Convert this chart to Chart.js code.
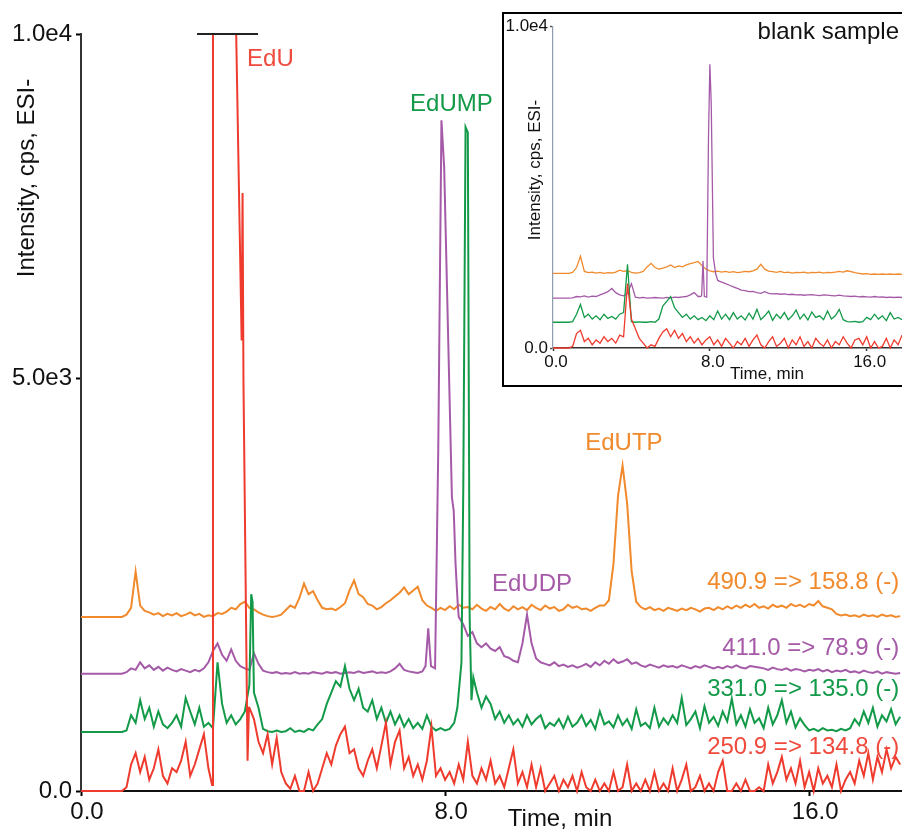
<!DOCTYPE html>
<html>
<head>
<meta charset="utf-8">
<script src="https://cdn.jsdelivr.net/npm/chart.js@4.4.1/dist/chart.umd.min.js"></script>
<style>
  html, body { margin: 0; padding: 0; background: #fff; overflow: hidden; width: 902px; height: 830px; }
  #main { position: absolute; left: 0; top: 0; }
  #insetBox { position: absolute; left: 502px; top: 12px; width: 398px; height: 371px;
              border: 2px solid #000; border-right: none; background: #fff; }
  #inset { display: block; }
</style>
</head>
<body>
<canvas id="main" width="902" height="830" style="width:902px;height:830px"></canvas>
<div id="insetBox"><canvas id="inset" width="398" height="371" style="width:398px;height:371px"></canvas></div>
<script>
// ---- main chromatogram, sampled every 0.1 min (0 .. 18 min), intensity in cps ----
const mainStep = 0.1;
const mainOrange = [
  2300,2300,2300,2300,2300,2300,2300,2300,2300,2300,
  2330,2420,2900,2450,2380,2360,2330,2350,2310,2340,
  2320,2350,2310,2330,2360,2320,2340,2300,2320,2310,
  2350,2340,2370,2420,2400,2470,2500,2420,2400,2360,
  2330,2310,2300,2310,2330,2390,2450,2420,2550,2740,
  2600,2640,2520,2420,2400,2410,2390,2430,2480,2650,
  2780,2600,2560,2470,2450,2400,2430,2480,2520,2570,
  2620,2690,2600,2650,2700,2520,2450,2420,2380,2420,
  2390,2440,2400,2460,2420,2430,2400,2460,2410,2380,
  2430,2400,2470,2410,2380,2440,2400,2430,2390,2460,
  2420,2390,2450,2410,2430,2380,2400,2460,2420,2440,
  2400,2410,2380,2420,2450,2450,2520,3000,3900,4300,
  3800,2900,2500,2430,2400,2430,2390,2410,2380,2420,
  2400,2380,2410,2390,2420,2400,2370,2410,2420,2390,
  2430,2400,2440,2410,2450,2420,2460,2430,2470,2420,
  2440,2410,2460,2430,2450,2420,2470,2440,2460,2430,
  2470,2450,2510,2440,2420,2400,2340,2320,2330,2310,
  2320,2300,2330,2310,2320,2300,2330,2310,2320,2300,
  2310
];
const mainPurple = [
  1550,1550,1550,1550,1550,1550,1550,1550,1550,1550,
  1570,1620,1600,1700,1620,1660,1600,1640,1590,1630,
  1600,1580,1610,1590,1570,1600,1580,1620,1700,1850,
  1950,1800,1720,1870,1720,1650,1620,1600,1820,1680,
  1590,1570,1560,1570,1550,1560,1550,1570,1550,1560,
  1550,1570,1560,1550,1570,1560,1570,1550,1560,1570,
  1560,1580,1560,1570,1580,1560,1570,1560,1580,1620,
  1680,1600,1580,1570,1560,1580,1600,1620,1600,1700,
  8000,4000,2800,2300,2200,2050,2100,1950,1900,1950,
  1880,1850,1900,1780,1760,1720,1700,1950,2330,1950,
  1750,1700,1680,1660,1700,1650,1670,1640,1660,1630,
  1650,1680,1640,1700,1660,1720,1680,1740,1690,1710,
  1740,1680,1700,1660,1640,1670,1650,1630,1660,1640,
  1650,1630,1660,1640,1620,1650,1630,1660,1640,1620,
  1640,1620,1650,1630,1660,1630,1620,1650,1640,1630,
  1620,1600,1630,1610,1600,1620,1590,1610,1600,1580,
  1600,1590,1610,1580,1600,1570,1590,1580,1600,1570,
  1580,1560,1590,1570,1560,1580,1550,1570,1560,1550,
  1560
];
const mainGreen = [
  780,780,780,780,780,780,780,780,780,780,
  800,1000,900,1200,950,1100,850,1050,880,830,
  900,1000,850,1230,1050,880,1100,850,900,830,
  1700,1150,900,1000,880,950,1050,1400,1300,1100,
  820,790,780,800,780,790,830,780,800,780,
  820,800,880,950,1150,1300,1450,1380,1650,1350,
  1200,1350,1100,1050,1200,950,1100,900,1050,880,
  1000,850,950,830,900,820,1000,850,800,830,
  800,820,900,1100,1900,8770,1500,1300,1100,1250,
  1150,950,1050,900,1000,880,950,850,1000,880,
  950,1000,830,900,860,950,830,980,850,900,
  1000,860,940,820,1050,880,920,840,1000,870,
  950,820,1080,860,900,830,1100,850,960,880,
  1000,900,1230,870,950,1050,830,1120,900,980,
  860,1050,920,1220,880,1000,850,1080,900,960,
  830,1100,880,1000,1200,900,1050,840,960,870,
  800,820,790,830,800,810,790,820,800,830,
  950,870,1050,900,1100,850,1000,920,1080,880,
  980
];
const mainRed = [
  0,0,0,0,0,0,0,0,0,0,
  50,350,500,250,450,150,300,550,200,100,
  300,250,400,650,200,350,550,750,300,80,
  0,0,0,0,0,0,0,1100,950,650,
  500,750,350,700,250,100,30,200,0,0,
  250,0,100,300,500,350,600,750,850,500,
  550,300,200,400,550,300,600,900,350,650,
  800,300,450,200,350,150,400,850,200,300,
  150,250,100,350,150,650,200,100,300,150,
  400,100,200,50,300,550,100,250,50,350,
  50,300,0,100,200,0,150,50,200,0,
  250,50,0,150,0,100,0,250,0,50,
  350,0,100,0,150,0,250,0,100,0,
  300,0,150,350,0,50,200,0,100,0,
  250,400,0,0,100,0,150,0,0,50,
  0,350,100,250,450,150,300,100,400,50,
  250,0,300,100,200,50,350,0,150,250,
  100,400,200,500,150,450,250,550,300,450,
  350
];

// finer samples across the sharp peaks (replace the coarse grid there)
const eduPeakT = [2.88, 2.9, 3.41, 3.53, 3.55, 3.57, 3.66, 3.69];
const eduPeakV = [80, 10000, 10000, 5950, 7900, 5400, 400, 1100];
const edumpSpikeT = [3.7, 3.74, 3.77, 3.8];
const edumpSpikeV = [1400, 2600, 2500, 1300];
const edumpPeakT = [8.2, 8.27, 8.36, 8.4, 8.45, 8.5, 8.54, 8.58, 8.62];
const edumpPeakV = [900, 1100, 1700, 4000, 8770, 8700, 2300, 1200, 1500];
const edudpPeakT = [7.5, 7.57, 7.63, 7.69, 7.78, 7.85, 7.92, 7.98, 8.15, 8.19, 8.23, 8.28];
const edudpPeakV = [1580, 1650, 2150, 1650, 1620, 4500, 8860, 8240, 3880, 3700, 3000, 2450];
const clipMarkT = [2.55, 3.89];
const clipMarkV = [10000, 10000];

// ---- inset (blank sample), sampled every 0.2 min (0 .. 17.8 min) ----
const insetStep = 0.2;
const insetOrange = [
  2320,2320,2320,2320,2320,2350,2500,2850,2380,2340,
  2360,2330,2350,2320,2340,2330,2360,2420,2380,2400,
  2350,2330,2340,2380,2520,2630,2500,2450,2480,2520,
  2580,2500,2550,2520,2580,2620,2650,2690,2560,2450,
  2400,2370,2390,2360,2380,2350,2370,2340,2360,2380,
  2370,2400,2450,2600,2450,2390,2370,2350,2380,2340,
  2360,2330,2350,2340,2360,2330,2350,2340,2360,2330,
  2350,2340,2360,2380,2360,2400,2370,2340,2320,2300,
  2310,2290,2300,2290,2300,2290,2300,2290,2300,2290
];
const insetPurple = [
  1550,1550,1550,1550,1550,1560,1600,1590,1620,1580,
  1610,1600,1650,1700,1750,1850,1720,1650,1620,1700,
  2000,1580,1560,1570,1550,1560,1570,1560,1550,1570,
  1560,1580,1570,1590,1600,1650,1720,1600,1600,1600,
  8800,3000,2100,2050,2000,1950,1900,1850,1800,1780,
  1750,1760,1720,1700,1750,1700,1680,1690,1670,1680,
  1660,1670,1650,1660,1640,1650,1660,1640,1630,1650,
  1640,1630,1620,1640,1620,1610,1600,1610,1590,1600,
  1590,1580,1600,1580,1590,1570,1580,1570,1580,1570
];
const insetGreen = [
  800,800,800,800,800,820,1050,1350,950,1050,
  900,1000,880,1050,920,980,900,1050,1100,2600,
  820,800,810,800,800,820,800,900,1300,1450,
  1600,1250,1100,950,1050,900,1000,880,950,850,
  1000,880,1150,900,1050,880,1100,900,1000,870,
  1080,900,1200,880,1000,1150,860,1050,920,1100,
  880,1000,1180,900,1050,870,1120,950,1000,880,
  1150,900,1000,1200,880,820,810,830,800,820,
  950,880,1050,900,1000,850,1100,900,950,880
];
const insetRed = [
  0,0,0,0,0,50,450,550,200,300,
  100,250,150,350,200,300,150,400,350,2000,
  900,600,300,150,0,100,50,300,500,600,
  350,550,300,450,200,350,150,300,100,250,
  350,100,250,50,300,150,0,200,100,300,
  50,250,400,100,0,200,350,50,150,300,
  0,250,100,350,50,200,0,300,150,50,
  250,0,200,100,350,150,0,250,300,100,
  350,0,200,0,50,300,0,250,100,400
];
const insetPeakT = [7.5, 7.58, 7.65, 7.72, 7.84, 7.93, 8.0, 8.07, 8.18, 8.3, 8.4];
const insetPeakV = [1600, 1620, 2700, 1600, 1580, 6500, 8820, 7600, 2800, 2300, 2100];

// ---- axes ----
const xTickValues = [0, 8, 16];
const xTickLabels = ["0.0", "8.0", "16.0"];
const yTickValues = [0, 5450, 10000];   // the 5.0e3 mark sits there in the original figure
const yTickLabels = ["0.0", "5.0e3", "1.0e4"];
const insetYTickValues = [0, 10000];
const insetYTickLabels = ["0.0", "1.0e4"];

const FONT = '"Liberation Sans", Arial, sans-serif';
const C_ORANGE = "#f08a2c", C_PURPLE = "#a55aa8", C_GREEN = "#139a49", C_RED = "#ee3b2e";

Chart.defaults.font.family = FONT;
Chart.defaults.color = "#111";

function pairs(ts, vs) {
  return ts.map((t, i) => ({x: t, y: vs[i]}));
}

// coarse grid, with finer peak samples replacing the grid over their span
function trace(step, vals, ...peaks) {
  let pts = vals.map((v, i) => ({x: Math.round(i * step * 100) / 100, y: v}));
  peaks.forEach(([pt, pv]) => {
    const a = pt[0], b = pt[pt.length - 1];
    pts = pts.filter(p => p.x < a || p.x > b).concat(pairs(pt, pv));
  });
  return pts.sort((p, q) => p.x - q.x);
}

function line(data, color, width) {
  return {data, borderColor: color, borderWidth: width, pointRadius: 0, tension: 0, fill: false, clip: 6};
}

// text drawn in data coordinates (t, v) or canvas pixels (px, py)
function textLayer(items) {
  return {
    id: "textLayer",
    afterDatasetsDraw(chart) {
      const {ctx, scales} = chart;
      items.forEach(it => {
        const px = it.t !== undefined ? scales.x.getPixelForValue(it.t) : it.px;
        const py = it.v !== undefined ? scales.y.getPixelForValue(it.v) : it.py;
        ctx.save();
        ctx.font = it.font;
        ctx.fillStyle = it.color || "#111";
        ctx.textAlign = it.align || "left";
        ctx.textBaseline = "middle";
        ctx.translate(px, py);
        if (it.rotate) ctx.rotate(it.rotate);
        ctx.fillText(it.text, 0, 0);
        ctx.restore();
      });
    }
  };
}

const big = "24px " + FONT;
const small = "17px " + FONT;

new Chart(document.getElementById("main"), {
  type: "line",
  data: {
    datasets: [
      line(pairs(clipMarkT, clipMarkV), "#222", 2),
      line(trace(mainStep, mainRed, [eduPeakT, eduPeakV]), C_RED, 2),
      line(trace(mainStep, mainGreen, [edumpSpikeT, edumpSpikeV], [edumpPeakT, edumpPeakV]), C_GREEN, 2),
      line(trace(mainStep, mainPurple, [edudpPeakT, edudpPeakV]), C_PURPLE, 2),
      line(trace(mainStep, mainOrange), C_ORANGE, 2),
    ]
  },
  options: {
    responsive: false,
    animation: false,
    devicePixelRatio: 1,
    layout: {padding: {top: 34, right: 0, left: 0, bottom: 0}},
    plugins: {legend: {display: false}, tooltip: {enabled: false}},
    scales: {
      x: {
        type: "linear", min: 0, max: 18.04,
        afterBuildTicks: s => { s.ticks = xTickValues.map(v => ({value: v})); },
        afterFit: s => { s.height = 39; },
        ticks: {callback: (v, i) => xTickLabels[i], font: {size: 24}, padding: 2, labelOffset: 6, maxRotation: 0},
        grid: {drawOnChartArea: false, color: "#000", tickLength: 5, tickWidth: 2},
        border: {color: "#111", width: 2},
      },
      y: {
        type: "linear", min: 0, max: 10000,
        afterBuildTicks: s => { s.ticks = yTickValues.map(v => ({value: v})); },
        afterFit: s => { s.width = 81; },
        ticks: {callback: (v, i) => yTickLabels[i], font: {size: 24}, padding: 4},
        grid: {drawOnChartArea: false, color: "#000", tickLength: 5, tickWidth: 2},
        border: {color: "#333", width: 2},
      }
    }
  },
  plugins: [textLayer([
    {text: "Intensity, cps, ESI-", px: 27, py: 178, rotate: -Math.PI / 2, align: "center", font: big},
    {text: "Time, min", px: 560, py: 819, align: "center", font: big},
    {text: "EdU", t: 3.65, v: 9670, font: big, color: "#ef4a3c"},
    {text: "EdUMP", t: 7.23, v: 9070, font: big, color: C_GREEN},
    {text: "EdUDP", t: 9.03, v: 2725, font: big, color: C_PURPLE},
    {text: "EdUTP", t: 11.08, v: 4590, font: big, color: C_ORANGE},
    {text: "490.9 => 158.8 (-)", t: 17.98, v: 2750, align: "right", font: big, color: C_ORANGE},
    {text: "411.0 => 78.9 (-)", t: 17.98, v: 1890, align: "right", font: big, color: C_PURPLE},
    {text: "331.0 => 135.0 (-)", t: 17.98, v: 1340, align: "right", font: big, color: C_GREEN},
    {text: "250.9 => 134.8 (-)", t: 17.98, v: 580, align: "right", font: big, color: "#ef4a3c"},
  ])]
});

new Chart(document.getElementById("inset"), {
  type: "line",
  data: {
    datasets: [
      line(trace(insetStep, insetRed), C_RED, 1.3),
      line(trace(insetStep, insetGreen), C_GREEN, 1.3),
      line(trace(insetStep, insetPurple, [insetPeakT, insetPeakV]), C_PURPLE, 1.3),
      line(trace(insetStep, insetOrange), C_ORANGE, 1.3),
    ]
  },
  options: {
    responsive: false,
    animation: false,
    devicePixelRatio: 1,
    layout: {padding: {top: 11, right: 0, left: 0, bottom: 0}},
    plugins: {legend: {display: false}, tooltip: {enabled: false}},
    scales: {
      x: {
        type: "linear", min: 0, max: 17.8,
        afterBuildTicks: s => { s.ticks = xTickValues.map(v => ({value: v})); },
        afterFit: s => { s.height = 37; },
        ticks: {callback: (v, i) => xTickLabels[i], font: {size: 17}, padding: 1, labelOffset: 3, maxRotation: 0},
        grid: {drawOnChartArea: false, color: "#333", tickLength: 3, tickWidth: 1.5},
        border: {color: "#333", width: 1.5},
      },
      y: {
        type: "linear", min: 0, max: 10000,
        afterBuildTicks: s => { s.ticks = insetYTickValues.map(v => ({value: v})); },
        afterFit: s => { s.width = 49; },
        ticks: {callback: (v, i) => insetYTickLabels[i], font: {size: 17}, padding: 2},
        grid: {drawOnChartArea: false, color: "#555", tickLength: 3, tickWidth: 1.5},
        border: {color: "#8d9bab", width: 1.2},
      }
    }
  },
  plugins: [textLayer([
    {text: "Intensity, cps, ESI-", px: 31, py: 156, rotate: -Math.PI / 2, align: "center", font: small},
    {text: "Time, min", px: 263, py: 360, align: "center", font: small},
    {text: "blank sample", px: 395, py: 18, align: "right", font: big},
  ])]
});
</script>
</body>
</html>
